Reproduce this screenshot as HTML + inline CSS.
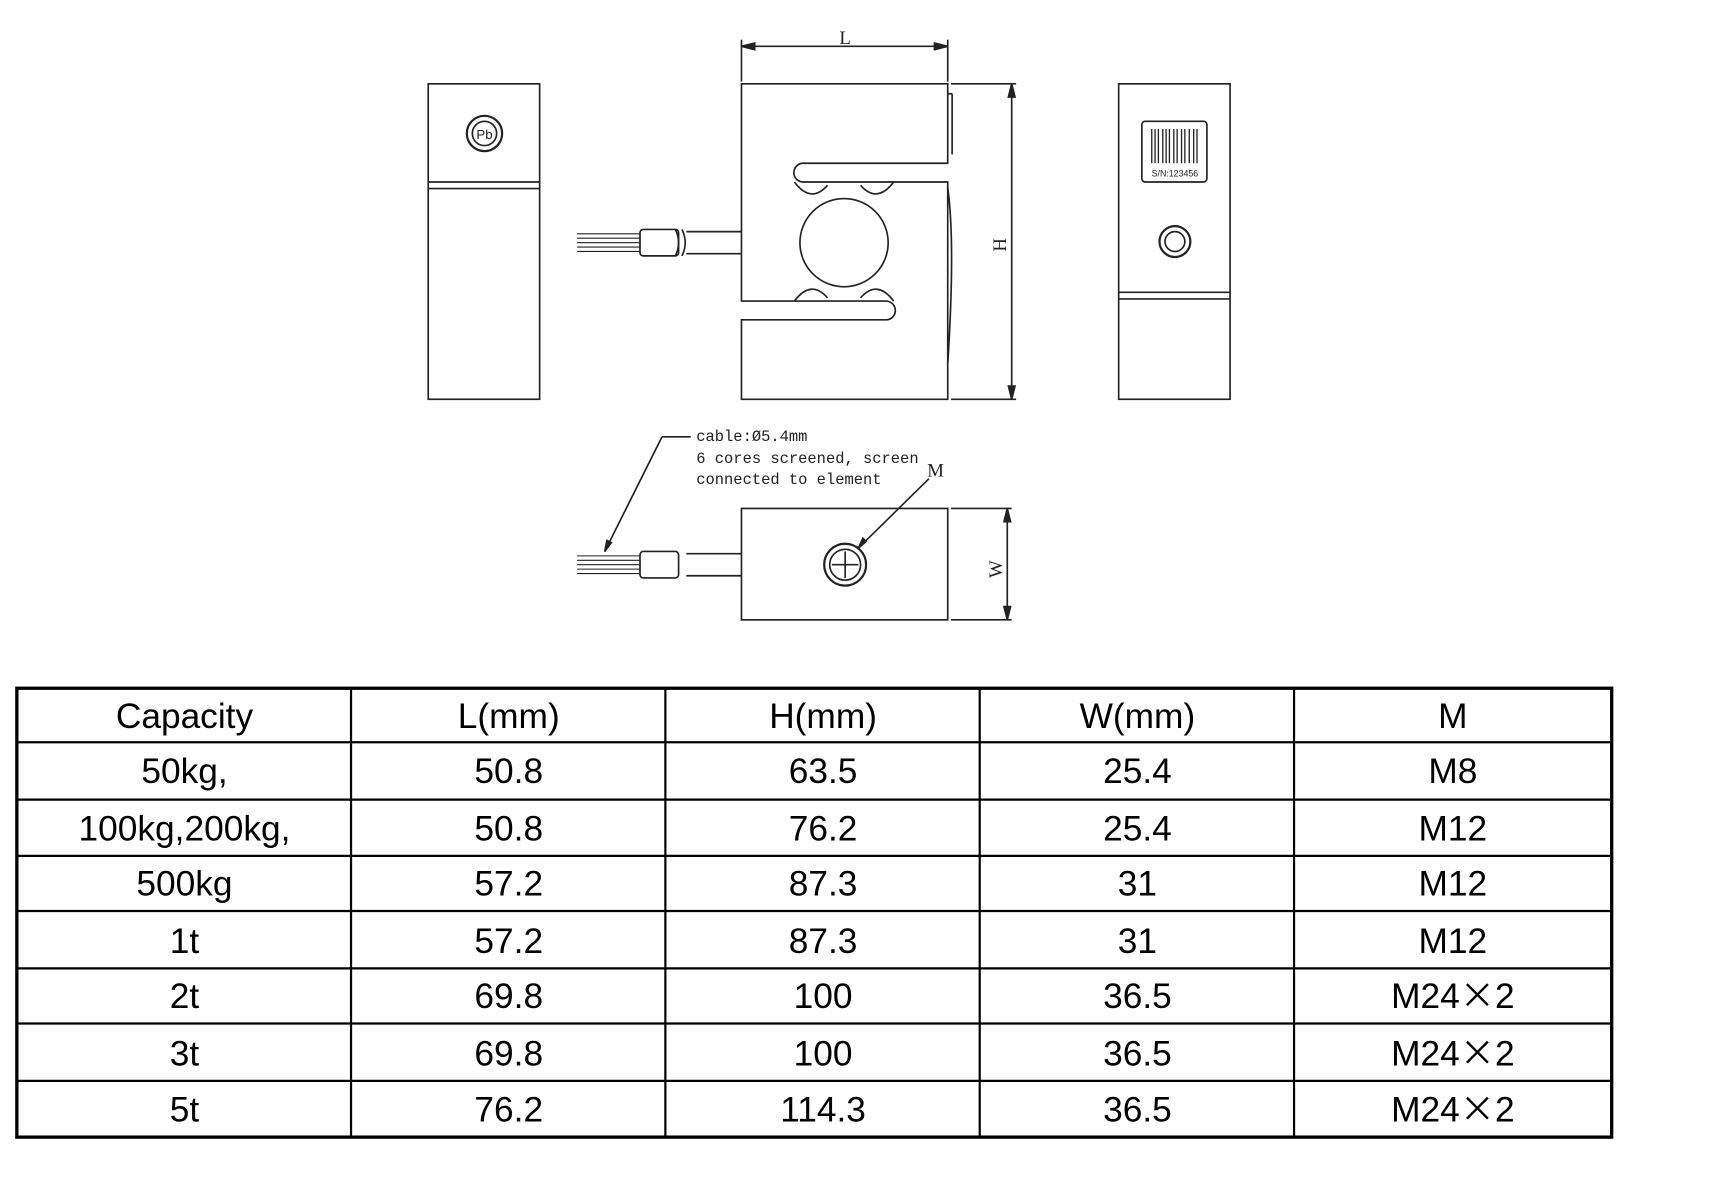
<!DOCTYPE html>
<html><head><meta charset="utf-8"><style>
html,body{margin:0;padding:0;background:#fff;}
svg{display:block;}
.t{font-family:"Liberation Sans",Arial,sans-serif;font-size:32px;fill:#000;text-anchor:middle;}
.x{font-family:"Noto Sans CJK SC",sans-serif;}
.m{font-family:"Liberation Mono",monospace;font-size:14px;fill:#222;}
.s{font-family:"Liberation Serif",serif;font-size:17px;fill:#222;}
</style></head><body>
<svg width="1730" height="1200" viewBox="0 0 1568 1088" xmlns="http://www.w3.org/2000/svg">
<g fill="none" stroke="#222" stroke-width="1.5">
<rect x="388" y="76" width="101" height="286"/>
<line x1="388" y1="165" x2="489" y2="165"/><line x1="388" y1="171" x2="489" y2="171"/>
<circle cx="439" cy="121" r="16" stroke-width="2"/><circle cx="439" cy="121" r="11"/>
<path d="M672 76 H859 V148 H728 A8.5 8.5 0 0 0 728 165 H859 V362 H672 V290 H803 A8.5 8.5 0 0 0 803 273 H672 Z"/>
<circle cx="765" cy="220" r="40"/>
<path d="M720 165 Q735 185 750 168 M780 168 Q795 185 810 165"/>
<path d="M720 273 Q735 253 750 270 M780 270 Q795 253 810 273"/>
<line x1="859" y1="85" x2="863" y2="85"/><line x1="863" y1="85" x2="863" y2="140"/>
<path d="M859 170 Q866 220 859 330"/>
<path d="M622 210 H672 M622 230 H672 M618 208 Q624 220 618 232 M612 208 Q618 220 612 232"/>
<rect x="580" y="208" width="35" height="24" rx="3"/>
<g stroke-width="1"><line x1="523" y1="212" x2="580" y2="212"/><line x1="523" y1="216" x2="580" y2="216"/><line x1="523" y1="220" x2="580" y2="220"/><line x1="523" y1="224" x2="580" y2="224"/><line x1="523" y1="228" x2="580" y2="228"/></g>
<line x1="672" y1="36" x2="672" y2="74"/><line x1="859" y1="36" x2="859" y2="74"/>
<line x1="672" y1="42" x2="859" y2="42"/>
<path d="M672 42 l12 -3 v6 z M859 42 l-12 -3 v6 z" fill="#222"/>
<line x1="862" y1="76" x2="921" y2="76"/><line x1="862" y1="362" x2="921" y2="362"/>
<line x1="917" y1="76" x2="917" y2="362"/>
<path d="M917 76 l-3 12 h6 z M917 362 l-3 -12 h6 z" fill="#222"/>
<rect x="1014" y="76" width="101" height="286"/>
<line x1="1014" y1="265" x2="1115" y2="265"/><line x1="1014" y1="271" x2="1115" y2="271"/>
<rect x="1035" y="110" width="59" height="55" rx="3"/>
<circle cx="1065" cy="219" r="14" stroke-width="2"/><circle cx="1065" cy="219" r="9"/>
<rect x="672" y="461" width="187" height="101"/>
<circle cx="766" cy="512" r="19" stroke-width="2"/><circle cx="766" cy="512" r="14"/>
<line x1="754" y1="512" x2="778" y2="512"/><line x1="766" y1="500" x2="766" y2="524"/>
<path d="M622 502 H672 M622 522 H672"/>
<rect x="580" y="500" width="35" height="24" rx="3"/>
<g stroke-width="1"><line x1="523" y1="504" x2="580" y2="504"/><line x1="523" y1="508" x2="580" y2="508"/><line x1="523" y1="512" x2="580" y2="512"/><line x1="523" y1="516" x2="580" y2="516"/><line x1="523" y1="520" x2="580" y2="520"/></g>
<line x1="862" y1="461" x2="917" y2="461"/><line x1="862" y1="562" x2="917" y2="562"/>
<line x1="913" y1="461" x2="913" y2="562"/>
<path d="M913 461 l-3 12 h6 z M913 562 l-3 -12 h6 z" fill="#222"/>
<line x1="626" y1="396" x2="600" y2="396"/><line x1="600" y1="396" x2="548" y2="500"/>
<line x1="842" y1="434" x2="780" y2="495"/>
<path d="M548 500 l2 -10 l4 2 z M778 497 l4 -9 l3 3 z" fill="#222"/>
</g>
<g fill="#222">
<g stroke="#222" stroke-width="1.2">
<line x1="1044" y1="117" x2="1044" y2="148"/><line x1="1047" y1="117" x2="1047" y2="148"/><line x1="1050" y1="117" x2="1050" y2="148"/><line x1="1054" y1="117" x2="1054" y2="148"/><line x1="1057" y1="117" x2="1057" y2="148"/><line x1="1060" y1="117" x2="1060" y2="148"/><line x1="1064" y1="117" x2="1064" y2="148"/><line x1="1067" y1="117" x2="1067" y2="148"/><line x1="1071" y1="117" x2="1071" y2="148"/><line x1="1074" y1="117" x2="1074" y2="148"/><line x1="1078" y1="117" x2="1078" y2="148"/><line x1="1082" y1="117" x2="1082" y2="148"/><line x1="1085" y1="117" x2="1085" y2="148"/>
</g>
<text x="1065" y="160" font-family="Liberation Sans,sans-serif" font-size="8" text-anchor="middle">S/N:123456</text>
<text x="439" y="126" font-family="Liberation Sans,sans-serif" font-size="12" text-anchor="middle">Pb</text>
</g>
<text class="s" x="766" y="40" text-anchor="middle">L</text>
<text class="s" transform="translate(912 222) rotate(-90)" text-anchor="middle">H</text>
<text class="s" transform="translate(908 516) rotate(-90)" text-anchor="middle">W</text>
<text class="s" x="848" y="432" text-anchor="middle">M</text>
<text class="m" x="631" y="400">cable:Ø5.4mm</text>
<text class="m" x="631" y="420">6 cores screened, screen</text>
<text class="m" x="631" y="439">connected to element</text>
<g stroke="#000" fill="none">
<rect x="15" y="624" width="1446" height="407" stroke-width="3"/>
<g stroke-width="2">
<line x1="318" y1="624" x2="318" y2="1031"/><line x1="603" y1="624" x2="603" y2="1031"/><line x1="888" y1="624" x2="888" y2="1031"/><line x1="1173" y1="624" x2="1173" y2="1031"/>
<line x1="15" y1="673" x2="1461" y2="673"/><line x1="15" y1="725" x2="1461" y2="725"/><line x1="15" y1="776" x2="1461" y2="776"/><line x1="15" y1="826" x2="1461" y2="826"/><line x1="15" y1="878" x2="1461" y2="878"/><line x1="15" y1="928" x2="1461" y2="928"/><line x1="15" y1="980" x2="1461" y2="980"/>
</g></g>
<text class="t" x="167" y="660">Capacity</text><text class="t" x="461" y="660">L(mm)</text><text class="t" x="746" y="660">H(mm)</text><text class="t" x="1031" y="660">W(mm)</text><text class="t" x="1317" y="660">M</text>
<text class="t" x="167" y="710">50kg,</text><text class="t" x="461" y="710">50.8</text><text class="t" x="746" y="710">63.5</text><text class="t" x="1031" y="710">25.4</text><text class="t" x="1317" y="710">M8</text>
<text class="t" x="167" y="762">100kg,200kg,</text><text class="t" x="461" y="762">50.8</text><text class="t" x="746" y="762">76.2</text><text class="t" x="1031" y="762">25.4</text><text class="t" x="1317" y="762">M12</text>
<text class="t" x="167" y="812">500kg</text><text class="t" x="461" y="812">57.2</text><text class="t" x="746" y="812">87.3</text><text class="t" x="1031" y="812">31</text><text class="t" x="1317" y="812">M12</text>
<text class="t" x="167" y="864">1t</text><text class="t" x="461" y="864">57.2</text><text class="t" x="746" y="864">87.3</text><text class="t" x="1031" y="864">31</text><text class="t" x="1317" y="864">M12</text>
<text class="t" x="167" y="914">2t</text><text class="t" x="461" y="914">69.8</text><text class="t" x="746" y="914">100</text><text class="t" x="1031" y="914">36.5</text><text class="t" x="1317" y="914">M24<tspan class="x">×</tspan>2</text>
<text class="t" x="167" y="966">3t</text><text class="t" x="461" y="966">69.8</text><text class="t" x="746" y="966">100</text><text class="t" x="1031" y="966">36.5</text><text class="t" x="1317" y="966">M24<tspan class="x">×</tspan>2</text>
<text class="t" x="167" y="1017">5t</text><text class="t" x="461" y="1017">76.2</text><text class="t" x="746" y="1017">114.3</text><text class="t" x="1031" y="1017">36.5</text><text class="t" x="1317" y="1017">M24<tspan class="x">×</tspan>2</text>
</svg>
</body></html>
